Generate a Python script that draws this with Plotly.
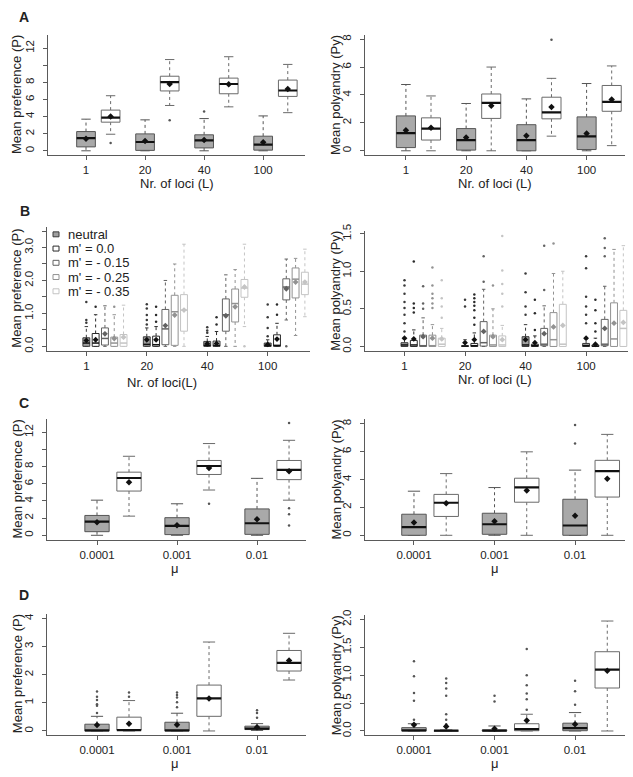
import plotly.graph_objects as go

# ---------------- data ----------------
loci = ["1", "20", "40", "100"]
mu_levels = ["0.0001", "0.001", "0.01"]
B_series = ["neutral", "m' = 0.0", "m' = - 0.15", "m' = - 0.25", "m' = - 0.35"]

# stats per box: [lower whisker, Q1, median, Q3, upper whisker, mean]
A_pref_neutral = [[0, 0.46, 1.49, 2.25, 3.70, 1.40], [0, 0.05, 1.03, 1.98, 3.62, 1.14],
                  [0, 0.34, 1.22, 1.87, 3.77, 1.26], [0, 0.08, 0.72, 1.71, 4.08, 0.99]]
A_pref_neutral_out = [[], [], [4.6], []]
A_pref_sel = [[1.94, 3.35, 3.89, 4.76, 6.44, 4.00], [5.30, 7.00, 8.04, 8.72, 10.67, 7.81],
              [5.14, 6.67, 7.81, 8.50, 11.00, 7.77], [4.46, 6.36, 7.05, 8.27, 10.10, 7.24]]
A_pref_sel_out = [[0.91], [3.58], [], []]

A_poly_neutral = [[0, 0.23, 1.26, 2.50, 4.75, 1.47], [0, 0.05, 0.77, 1.59, 3.39, 0.96],
                  [0, 0.00, 0.77, 1.87, 3.72, 1.08], [0, 0.09, 1.03, 2.43, 4.82, 1.24]]
A_poly_neutral_out = [[], [], [], []]
A_poly_sel = [[0, 0.77, 1.59, 2.36, 3.93, 1.66], [0, 2.32, 3.44, 4.07, 6.00, 3.23],
              [1.05, 2.29, 2.76, 3.84, 5.19, 3.13], [0.37, 2.83, 3.51, 4.68, 6.08, 3.67]]
A_poly_sel_out = [[], [], [7.95], []]

B_pref_neutral = [[0, 0, 0.10, 0.26, 0.60, 0.18], [0, 0, 0.06, 0.29, 0.56, 0.20],
                  [0, 0, 0.03, 0.15, 0.30, 0.08], [0, 0, 0.02, 0.10, 0.20, 0.06]]
B_pref_neutral_out = [[0.72, 0.80, 1.35], [0.66, 0.80, 0.95, 1.15, 1.28], [0.41, 0.48, 0.58],
                      [0.31, 0.56, 0.88, 1.27]]
B_pref_m00 = [[0, 0, 0.10, 0.39, 0.96, 0.20], [0, 0, 0.05, 0.31, 0.60, 0.20],
              [0, 0, 0.03, 0.16, 0.45, 0.09], [0, 0, 0.03, 0.35, 0.70, 0.22]]
B_pref_m00_out = [[1.2], [0.75, 0.95, 1.2], [0.66, 0.88], [0.96, 1.27]]
B_pref_m015 = [[0, 0.04, 0.24, 0.56, 1.23, 0.38], [0, 0.05, 0.53, 1.12, 2.00, 0.63],
               [0, 0.46, 0.96, 1.44, 2.17, 0.93], [0.80, 1.41, 1.80, 2.05, 2.65, 1.75]]
B_pref_m015_out = [[], [], [], [0]]
B_pref_m025 = [[0, 0, 0.10, 0.28, 0.96, 0.24], [0, 0.03, 1.05, 1.55, 2.50, 0.95],
               [0, 0.74, 1.30, 1.74, 2.33, 1.20], [0.33, 1.47, 2.04, 2.38, 2.67, 1.95]]
B_pref_m025_out = [[1.2], [], [], []]
B_pref_m035 = [[0, 0, 0.10, 0.36, 1.25, 0.28], [0, 0.46, 1.10, 1.57, 3.10, 1.10],
               [0.60, 1.49, 1.77, 2.03, 3.10, 1.80], [0.90, 1.57, 1.89, 2.25, 2.95, 1.95]]
B_pref_m035_out = [[], [], [0], []]

B_poly_neutral = [[0, 0, 0.02, 0.05, 0.10, 0.11], [0, 0, 0.005, 0.01, 0.09, 0.05],
                  [0, 0, 0.02, 0.13, 0.29, 0.09], [0, 0, 0.01, 0.04, 0.10, 0.11]]
B_poly_neutral_out = [[0.20, 0.31, 0.42, 0.51, 0.59, 0.70, 0.81, 0.88], [0.53, 0.62],
                      [0.42, 0.53, 0.72, 0.97], [0.31, 0.42, 0.53, 0.66, 1.04, 1.20]]
B_poly_m00 = [[0, 0, 0.02, 0.08, 0.22, 0.10], [0, 0, 0.01, 0.04, 0.18, 0.09],
              [0, 0, 0.01, 0.03, 0.14, 0.05], [0, 0, 0.005, 0.02, 0.11, 0.03]]
B_poly_m00_out = [[0.45, 0.51, 0.57, 1.13], [0.29, 0.38, 0.48, 0.54, 0.59, 0.64, 0.69],
                  [0.22, 0.44, 0.62], [0.20, 0.31, 0.48, 0.62]]
B_poly_m015 = [[0, 0, 0.01, 0.15, 0.38, 0.13], [0, 0.005, 0.05, 0.33, 0.76, 0.20],
               [0, 0.01, 0.03, 0.24, 0.54, 0.17], [0, 0.01, 0.03, 0.36, 0.80, 0.24]]
B_poly_m015_out = [[0.50, 0.57, 0.80], [0.86, 1.20], [0.75, 1.34], [1.20, 1.31, 1.44]]
B_poly_m025 = [[0, 0, 0.01, 0.15, 0.29, 0.11], [0, 0, 0.02, 0.15, 0.50, 0.13],
               [0, 0, 0.09, 0.45, 0.97, 0.26], [0, 0, 0.10, 0.58, 1.29, 0.31]]
B_poly_m025_out = [[0.51, 0.57, 0.64, 0.70, 0.81, 1.05], [0.81], [1.37], []]
B_poly_m035 = [[0, 0, 0.03, 0.11, 0.24, 0.10], [0, 0, 0.02, 0.14, 0.28, 0.09],
               [0, 0, 0.03, 0.56, 1.00, 0.28], [0, 0, 0.24, 0.48, 1.34, 0.32]]
B_poly_m035_out = [[0.38, 0.53, 0.64, 0.88], [0.53, 0.70, 0.83, 1.01, 1.47], [], []]

C_pref_neutral = [[0, 0.42, 1.59, 2.31, 4.09, 1.52], [0, 0.08, 1.10, 2.05, 3.67, 1.17],
                  [0, 0.11, 1.40, 3.07, 6.63, 1.86]]
C_pref_neutral_out = [[], [], []]
C_pref_sel = [[2.23, 5.15, 6.67, 7.35, 9.20, 6.17], [5.27, 7.08, 8.07, 8.71, 10.68, 7.84],
              [4.09, 6.48, 7.61, 8.71, 11.06, 7.46]]
C_pref_sel_out = [[], [3.67], [3.14, 2.46, 1.14, 13.07]]
C_poly_neutral = [[0, 0, 0.58, 1.51, 3.16, 0.91], [0, 0.07, 0.79, 1.58, 3.42, 1.00],
                  [0, 0, 0.70, 2.58, 4.67, 1.40]]
C_poly_neutral_out = [[], [], [6.58, 7.90]]
C_poly_sel = [[0, 1.35, 2.33, 2.93, 4.42, 2.30], [0, 2.37, 3.44, 4.09, 5.98, 3.21],
              [0, 2.74, 4.60, 5.37, 7.23, 4.05]]
C_poly_sel_out = [[], [], []]

D_pref_neutral = [[0, 0, 0.02, 0.24, 0.52, 0.21], [0, 0, 0.02, 0.31, 0.63, 0.22],
                  [0.02, 0.05, 0.08, 0.17, 0.26, 0.13]]
D_pref_neutral_out = [[0.64, 0.90, 0.95, 1.10, 1.22, 1.40], [0.84, 1.02, 1.19, 1.28, 1.37],
                      [0.47, 0.64, 0.74]]
D_pref_sel = [[0, 0.03, 0.03, 0.49, 1.08, 0.26], [0, 0.52, 1.16, 1.63, 3.16, 1.15],
              [1.81, 2.13, 2.42, 2.86, 3.47, 2.50]]
D_pref_sel_out = [[1.22, 1.37], [], []]
D_poly_neutral = [[0, 0, 0.01, 0.06, 0.13, 0.11], [0, 0, 0.005, 0.02, 0.09, 0.04],
                  [0, 0.005, 0.05, 0.14, 0.33, 0.12]]
D_poly_neutral_out = [[0.20, 0.54, 0.68, 0.98, 1.25], [0.53, 0.63], [0.47, 0.71, 0.90]]
D_poly_sel = [[0, 0, 0.005, 0.01, 0.02, 0.08], [0, 0.005, 0.035, 0.13, 0.30, 0.19],
              [0, 0.77, 1.10, 1.42, 1.97, 1.08]]
D_poly_sel_out = [[0.12, 0.20, 0.30, 0.63, 0.76, 0.86, 0.94], [0.38, 0.57, 0.67, 0.82, 1.00, 1.47], []]

# ---------------- styling / layout ----------------
W, H = 633, 777
FONT = "Arial, Liberation Sans, Helvetica, sans-serif"
GREY_FILL = "#a9a9a9"
GREY_LINE = "#555555"
WHITE_LINE = "#6a6a6a"
B_fill = ["#a0a0a0", "white", "white", "white", "white"]
B_line = ["#3a3a3a", "#2a2a2a", "#626262", "#929292", "#c4c4c4"]
TICKSIZE = 11.5

fig = go.Figure()


def add_boxes(ax, positions, stats, outs, hw, fill, line, medc, meanc, outc,
              medw=2.2, meansize=5):
    xa, ya = "x" + ax, "y" + ax
    bx, by, mx, my, wx, wy, cx, cy, ox, oy, ex, ey = ([] for _ in range(12))
    for p, s, o in zip(positions, stats, outs):
        lo, q1, med, q3, hi, mean = s
        bx += [p - hw, p + hw, p + hw, p - hw, p - hw, None]
        by += [q1, q1, q3, q3, q1, None]
        mx += [p - hw, p + hw, None]
        my += [med, med, None]
        wx += [p, p, None, p, p, None]
        wy += [q3, hi, None, q1, lo, None]
        cx += [p - hw / 2, p + hw / 2, None, p - hw / 2, p + hw / 2, None]
        cy += [hi, hi, None, lo, lo, None]
        ox += [p] * len(o)
        oy += list(o)
        ex.append(p)
        ey.append(mean)
    common = dict(xaxis=xa, yaxis=ya, showlegend=False, hoverinfo="skip")
    fig.add_trace(go.Scatter(x=wx, y=wy, mode="lines",
                             line=dict(color=line, width=1, dash="dot"), **common))
    fig.add_trace(go.Scatter(x=cx, y=cy, mode="lines",
                             line=dict(color=line, width=1), **common))
    fig.add_trace(go.Scatter(x=bx, y=by, mode="lines", fill="toself", fillcolor=fill,
                             line=dict(color=line, width=1), **common))
    fig.add_trace(go.Scatter(x=mx, y=my, mode="lines",
                             line=dict(color=medc, width=medw), **common))
    fig.add_trace(go.Scatter(x=ox, y=oy, mode="markers",
                             marker=dict(color=outc, size=2.5, symbol="circle"), **common))
    fig.add_trace(go.Scatter(x=ex, y=ey, mode="markers",
                             marker=dict(color=meanc, size=meansize, symbol="diamond",
                                         line=dict(width=0)), **common))


def two_series(ax, groups, spacing, neutral, neutral_out, sel, sel_out):
    pos_n = [g * spacing for g in range(len(groups))]
    pos_s = [g * spacing + 1 for g in range(len(groups))]
    add_boxes(ax, pos_n, neutral, neutral_out, 0.38, GREY_FILL, GREY_LINE, "#111111",
              "#111111", "#555555")
    add_boxes(ax, pos_s, sel, sel_out, 0.38, "white", WHITE_LINE, "#111111",
              "#111111", "#555555")
    return pos_n


def five_series(ax, groups, spacing, series_stats, series_outs):
    pos_first = [g * spacing for g in range(len(groups))]
    for j, (st, ou) in enumerate(zip(series_stats, series_outs)):
        pos = [g * spacing + j for g in range(len(groups))]
        medc = "#111111" if j < 2 else B_line[j]
        meanc = "#111111" if j < 2 else B_line[j]
        add_boxes(ax, pos, st, ou, 0.37, B_fill[j], B_line[j], medc, meanc, B_line[j],
                  medw=1.5, meansize=4.5)
    return pos_first


tA1 = two_series("1", loci, 2.4, A_pref_neutral, A_pref_neutral_out, A_pref_sel, A_pref_sel_out)
tA2 = two_series("2", loci, 2.4, A_poly_neutral, A_poly_neutral_out, A_poly_sel, A_poly_sel_out)
tB1 = five_series("3", loci, 6.5,
                  [B_pref_neutral, B_pref_m00, B_pref_m015, B_pref_m025, B_pref_m035],
                  [B_pref_neutral_out, B_pref_m00_out, B_pref_m015_out, B_pref_m025_out, B_pref_m035_out])
tB2 = five_series("4", loci, 6.5,
                  [B_poly_neutral, B_poly_m00, B_poly_m015, B_poly_m025, B_poly_m035],
                  [B_poly_neutral_out, B_poly_m00_out, B_poly_m015_out, B_poly_m025_out, B_poly_m035_out])
tC1 = two_series("5", mu_levels, 2.5, C_pref_neutral, C_pref_neutral_out, C_pref_sel, C_pref_sel_out)
tC2 = two_series("6", mu_levels, 2.5, C_poly_neutral, C_poly_neutral_out, C_poly_sel, C_poly_sel_out)
tD1 = two_series("7", mu_levels, 2.5, D_pref_neutral, D_pref_neutral_out, D_pref_sel, D_pref_sel_out)
tD2 = two_series("8", mu_levels, 2.5, D_poly_neutral, D_poly_neutral_out, D_poly_sel, D_poly_sel_out)

# panel geometry in pixels: (x0, x1, y0_top, y1_bottom, xrange, yrange)
panels = {
    "1": (48, 305, 28.5, 150, [-1.545, 8.90], [-0.52, 13.52]),
    "2": (365, 625, 28, 150, [-1.63, 8.73], [-0.32, 8.32]),
    "3": (47, 310, 223, 348, [-4.23, 24.05], [-0.14, 3.61]),
    "4": (365, 628, 227, 348, [-4.24, 24.0], [-0.06, 1.53]),
    "5": (47, 306, 417, 539, [-1.5625, 6.53], [-0.52, 13.52]),
    "6": (365, 625, 417, 539, [-1.52, 6.55], [-0.32, 8.32]),
    "7": (47, 306, 614, 737, [-1.5625, 6.53], [-0.16, 4.16]),
    "8": (365, 625, 615, 737, [-1.52, 6.55], [-0.08, 2.08]),
}
xticks = {"1": (tA1, loci), "2": (tA2, loci), "3": (tB1, loci), "4": (tB2, loci),
          "5": (tC1, mu_levels), "6": (tC2, mu_levels), "7": (tD1, mu_levels), "8": (tD2, mu_levels)}
yticks = {
    "1": ([0, 2, 4, 6, 8, 10, 12], ["0", "2", "4", "6", "8", "", "12"]),
    "2": ([0, 2, 4, 6, 8], ["0", "2", "4", "6", "8"]),
    "3": ([0, 0.5, 1, 1.5, 2, 2.5, 3, 3.5], ["0.0", "", "1.0", "", "2.0", "", "3.0", ""]),
    "4": ([0, 0.5, 1, 1.5], ["0.0", "0.5", "1.0", "1.5"]),
    "5": ([0, 2, 4, 6, 8, 10, 12], ["0", "2", "4", "6", "8", "", "12"]),
    "6": ([0, 2, 4, 6, 8], ["0", "2", "4", "6", "8"]),
    "7": ([0, 1, 2, 3, 4], ["0", "1", "2", "3", "4"]),
    "8": ([0, 0.5, 1, 1.5, 2], ["0.0", "0.5", "1.0", "1.5", "2.0"]),
}

AXC = "#5a5a5a"
TXT = "#222222"
layout_axes = {}
for k, (x0, x1, y0, y1, xr, yr) in panels.items():
    sx = "" if k == "1" else k
    tv, tt = xticks[k]
    layout_axes["xaxis" + sx] = dict(
        domain=[x0 / W, x1 / W], range=xr, anchor="y" + ("" if k == "1" else k),
        showline=True, linecolor=AXC, linewidth=1, ticks="outside", ticklen=4,
        tickcolor=AXC, tickvals=tv, ticktext=tt, showgrid=False, zeroline=False,
        tickfont=dict(size=TICKSIZE, color=TXT, family=FONT), fixedrange=True)
    yv, yt = yticks[k]
    layout_axes["yaxis" + sx] = dict(
        domain=[1 - y1 / H, 1 - y0 / H], range=yr, anchor="x" + ("" if k == "1" else k),
        showline=True, linecolor=AXC, linewidth=1, ticks="outside", ticklen=4,
        tickcolor=AXC, tickvals=yv, ticktext=yt, tickangle=-90, showgrid=False,
        zeroline=False, tickfont=dict(size=TICKSIZE, color=TXT, family=FONT),
        ticklabelstandoff=4, fixedrange=True)

annotations = []


def ann(text, x, y, size=13, angle=0, bold=False):
    annotations.append(dict(text=("<b>%s</b>" % text) if bold else text,
                            x=x / W, y=1 - y / H, xref="paper", yref="paper",
                            showarrow=False, textangle=angle, xanchor="center",
                            yanchor="middle", font=dict(size=size, color=TXT, family=FONT)))


# panel letters
ann("A", 24, 10, 14, bold=True)
ann("B", 25, 206, 14, bold=True)
ann("C", 24, 401, 14, bold=True)
ann("D", 24, 595, 14, bold=True)
# x titles
ann("Nr. of loci (L)", 177, 178.5)
ann("Nr. of loci (L)", 495, 179)
ann("Nr. of loci(L)", 162, 379.5)
ann("Nr. of loci (L)", 495, 377)
ann("\u03bc", 175, 568)
ann("\u03bc", 495, 568)
ann("\u03bc", 175, 765)
ann("\u03bc", 495, 765)
# y titles
ann("Mean preference (P)", 17, 89, angle=-90)
ann("Mean polyandry (Py)", 336, 89, angle=-90)
ann("Mean preference (P)", 17, 285, angle=-90)
ann("Mean polyandry (Py)", 336, 287, angle=-90)
ann("Mean preference (P)", 17, 478, angle=-90)
ann("Mean polyandry (Py)", 336, 478, angle=-90)
ann("Mean preference (P)", 17, 675, angle=-90)
ann("Mean polyandry (Py)", 336, 676, angle=-90)

# legend of panel B (left)
shapes = []
for i, name in enumerate(B_series):
    yc = 230 + i * 14.4
    shapes.append(dict(type="rect", xref="paper", yref="paper",
                       x0=53 / W, x1=59 / W, y0=1 - (yc + 2.5) / H, y1=1 - (yc - 2.5) / H,
                       fillcolor=B_fill[i], line=dict(color=B_line[i], width=1)))
    annotations.append(dict(text=name, x=66 / W, y=1 - yc / H, xref="paper", yref="paper",
                            showarrow=False, xanchor="left", yanchor="middle",
                            font=dict(size=13, color=TXT, family=FONT)))

fig.update_layout(
    width=W, height=H, margin=dict(l=0, r=0, t=0, b=0),
    paper_bgcolor="white", plot_bgcolor="white",
    font=dict(family=FONT, color=TXT),
    annotations=annotations, shapes=shapes, showlegend=False,
    **layout_axes)

fig.write_html("out.html", config={"displayModeBar": False},
               post_script="document.body.style.margin='0';")
